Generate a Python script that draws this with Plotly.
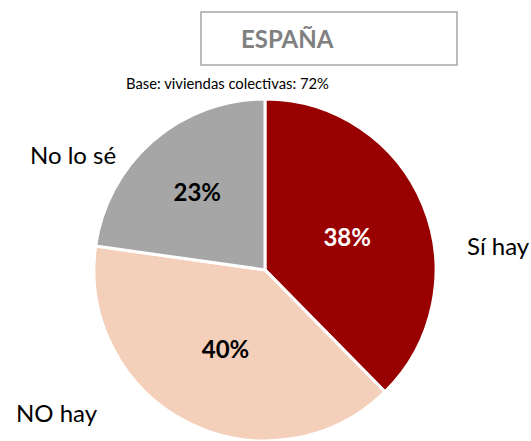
import plotly.graph_objects as go

# categories and values (percent)
labels = ["Sí hay", "NO hay", "No lo sé"]
values = [38, 40, 23]
colors = ["#990000", "#F4CFB9", "#A6A6A6"]
text_colors = ["white", "black", "black"]

title_text = "ESPAÑA"
base_text = "Base: viviendas colectivas: 72%"

font_name = "Lato"

fig = go.Figure(go.Pie(
    labels=labels,
    values=values,
    sort=False,
    direction="clockwise",
    rotation=0,
    marker=dict(colors=colors, line=dict(color="white", width=3)),
    texttemplate="<b>%{value}%</b>",
    textposition="inside",
    insidetextorientation="horizontal",
    textfont=dict(family=font_name, size=24, color=text_colors),
    domain=dict(x=[0.177, 0.821], y=[0.0, 0.776]),
    hoverinfo="label+value",
    showlegend=False,
))

# category names outside the pie
name_pos = {"Sí hay": (0.938, 0.444), "NO hay": (0.107, 0.064), "No lo sé": (0.138, 0.65)}
for lab in labels:
    x, y = name_pos[lab]
    fig.add_annotation(x=x, y=y, xref="paper", yref="paper", text=lab,
                       xanchor="center", yanchor="middle",
                       showarrow=False, font=dict(family=font_name, size=24, color="black"))

# title box (text sits left of the box centre, as in the original)
fig.add_shape(type="rect", xref="paper", yref="paper",
              x0=0.3785, x1=0.8606, y0=0.8526, y1=0.9728,
              line=dict(color="#A6A6A6", width=1.5), fillcolor="white")
fig.add_annotation(x=0.542, y=0.913, xref="paper", yref="paper", text="<b>" + title_text + "</b>",
                   xanchor="center", yanchor="middle", showarrow=False,
                   font=dict(family=font_name, size=24, color="#808080"))

fig.add_annotation(x=0.4285, y=0.812, xref="paper", yref="paper", text=base_text,
                   xanchor="center", yanchor="middle",
                   showarrow=False, font=dict(family=font_name, size=14.8, color="black"))

fig.update_layout(
    width=531, height=441,
    margin=dict(l=0, r=0, t=0, b=0),
    paper_bgcolor="white",
    plot_bgcolor="white",
)

# drop the browser's default body margin so the figure sits at the page corner
fig.write_html("out.html", config={"displayModeBar": False},
               post_script="document.body.style.margin='0';")
